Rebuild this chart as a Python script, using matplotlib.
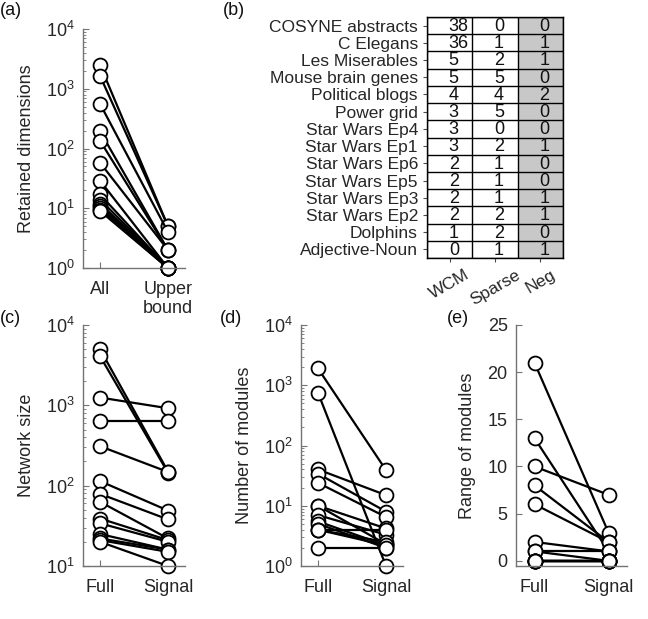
import numpy as np
import matplotlib.pyplot as plt
from matplotlib.colors import ListedColormap
from matplotlib.ticker import LogLocator, LogFormatterSciNotation, NullFormatter

plt.rcParams['font.family'] = ['Liberation Sans', 'DejaVu Sans']
plt.rcParams['mathtext.fontset'] = 'custom'
plt.rcParams['mathtext.rm'] = 'Liberation Sans'
plt.rcParams['font.size'] = 13

# ---------- data ----------
# (a) retained dimensions
dims_all = [2500, 1650, 560, 195, 135, 58, 29, 17, 14, 12, 11, 10, 9.5, 9]
dims_upper = [5, 5, 4, 2, 2, 2, 1, 1, 1, 1, 1, 1, 1, 1]

# (b) table
datasets = ["COSYNE abstracts", "C Elegans", "Les Miserables", "Mouse brain genes",
            "Political blogs", "Power grid", "Star Wars Ep4", "Star Wars Ep1",
            "Star Wars Ep6", "Star Wars Ep5", "Star Wars Ep3", "Star Wars Ep2",
            "Dolphins", "Adjective-Noun"]
table_cols = ["WCM", "Sparse", "Neg"]
wcm = [38, 36, 5, 5, 4, 3, 3, 3, 2, 2, 2, 2, 1, 0]
sparse = [0, 1, 2, 5, 4, 5, 0, 2, 1, 1, 1, 2, 2, 1]
neg = [0, 1, 1, 0, 2, 0, 0, 1, 0, 0, 1, 1, 0, 1]
col_shade = [0, 0, 1]

# (c) network size
size_full = [5000, 4100, 1250, 630, 310, 114, 79, 63, 39, 34, 25, 22, 21, 20]
size_signal = [150, 145, 920, 630, 148, 49, 38, 22, 21, 20, 16, 16, 15, 10]

# (d) number of modules
nmod_full = [1900, 750, 40, 34, 24, 10, 10, 7, 5.5, 5, 4, 4, 4, 2]
nmod_signal = [39, 1, 15, 8, 6.5, 4.2, 2.3, 3.3, 2.2, 2, 4, 2.5, 2.2, 2]

# (e) range of modules
range_full = [21, 13, 10, 8, 6, 2, 1, 1, 0, 0, 0, 0, 0, 0]
range_signal = [3, 1, 7, 2, 2, 1, 1, 0, 0, 0, 0, 0, 0, 0]

W, H = 648, 619
fig = plt.figure(figsize=(W / 100, H / 100), dpi=100)


def px_axes(x0, x1, ytop, ybot):
    return fig.add_axes([x0 / W, 1 - ybot / H, (x1 - x0) / W, (ybot - ytop) / H])


def style(ax):
    for s in ['top', 'right']:
        ax.spines[s].set_visible(False)
    for s in ['left', 'bottom']:
        ax.spines[s].set_color('0.45')
        ax.spines[s].set_linewidth(1.0)
    ax.tick_params(which='both', direction='in', color='0.45', labelcolor='#262626')
    ax.tick_params(which='major', length=4)
    ax.tick_params(which='minor', length=2)
    ax.tick_params(axis='x', pad=9)
    ax.tick_params(axis='y', pad=6)


def paired(ax, left, right, xlabels, ylabel, log=True):
    for a, b in zip(left, right):
        ax.plot([0, 1], [a, b], '-o', color='k', lw=1.6, ms=10,
                mfc='white', mec='k', mew=1.3, clip_on=False)
    ax.set_xlim(-0.25, 1.25)
    ax.set_xticks([0, 1])
    ax.set_xticklabels(xlabels)
    ax.set_ylabel(ylabel, color='#262626', labelpad=8)
    if log:
        ax.set_yscale('log')
        ax.yaxis.set_major_locator(LogLocator(base=10, numticks=10))
        ax.yaxis.set_major_formatter(LogFormatterSciNotation())
        ax.yaxis.set_minor_locator(LogLocator(base=10, subs=np.arange(2, 10), numticks=20))
        ax.yaxis.set_minor_formatter(NullFormatter())
    style(ax)


# (a)
ax_a = px_axes(83, 185, 29, 268)
paired(ax_a, dims_all, dims_upper, ["All", "Upper\nbound"], "Retained dimensions")
ax_a.set_ylim(1, 1e4)

# (b) table
ax_b = px_axes(427, 563, 17, 258)
vals = np.array([wcm, sparse, neg]).T
shade = np.tile(col_shade, (len(datasets), 1))
ax_b.imshow(shade, cmap=ListedColormap(['white', '#c8c8c8']), aspect='auto',
            vmin=0, vmax=1, interpolation='nearest')
for i in range(len(datasets)):
    for j in range(len(table_cols)):
        ax_b.text(j - 0.02, i + 0.05, str(vals[i, j]), ha='left', va='center',
                  fontsize=13, color='#111111')
ax_b.set_xticks(range(len(table_cols)))
ax_b.set_xticklabels(table_cols, rotation=30, ha='center', fontsize=12.5)
ax_b.set_yticks(range(len(datasets)))
ax_b.set_yticklabels(datasets, fontsize=12.5)
ax_b.set_xticks(np.arange(-0.5, len(table_cols)), minor=True)
ax_b.set_yticks(np.arange(-0.5, len(datasets)), minor=True)
ax_b.grid(which='minor', color='k', lw=1.0)
ax_b.tick_params(which='minor', length=0)
ax_b.tick_params(which='major', length=3, direction='out', color='0.3', labelcolor='#262626')
for s in ax_b.spines.values():
    s.set_color('k')
    s.set_linewidth(1.0)

# (c)
ax_c = px_axes(83, 185, 325, 566)
paired(ax_c, size_full, size_signal, ["Full", "Signal"], "Network size")
ax_c.set_ylim(10, 1e4)

# (d)
ax_d = px_axes(301, 403, 325, 566)
paired(ax_d, nmod_full, nmod_signal, ["Full", "Signal"], "Number of modules")
ax_d.set_ylim(1, 1e4)

# (e)
ax_e = px_axes(516, 627, 325, 566)
paired(ax_e, range_full, range_signal, ["Full", "Signal"], "Range of modules", log=False)
ax_e.set_ylim(-0.55, 25)
ax_e.set_yticks([0, 5, 10, 15, 20, 25])

# panel letters
for lbl, x, y in [("(a)", 0, 2), ("(b)", 223, 2), ("(c)", 0, 310), ("(d)", 220, 310), ("(e)", 447, 310)]:
    fig.text(x / W, 1 - y / H, lbl, ha='left', va='top', fontsize=13, color='#111111')

fig.savefig("out.png", dpi=100)
